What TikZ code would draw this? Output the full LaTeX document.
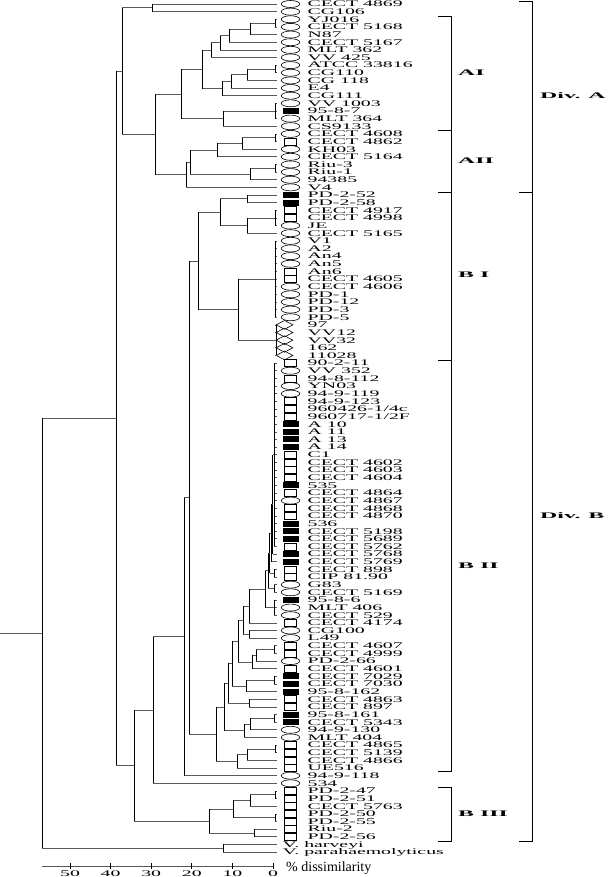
\documentclass[tikz,border=0pt]{standalone}
\usepackage{fontspec}
\setmainfont{Liberation Serif}
\newfontfamily\leaffont[FakeStretch=2.3]{Liberation Serif}
\newfontfamily\grpfont[FakeStretch=2.8]{Liberation Serif}
\usetikzlibrary{calc,shapes.geometric}
% 分岐: 名前, x, 上の子, 下の子
\newcommand\clade[4]{%
  \coordinate (#1m) at ($(#3)!0.5!(#4)$);
  \coordinate (#1) at (#2,0 |- #1m);
  \draw[hline] (#3) -- (#1 |- #3) (#1 |- #4) -- (#4);
  \draw[vline] (#1 |- #3) -- (#1 |- #4);
}
\begin{document}
\begin{tikzpicture}[x=1pt, y=-1pt,
    hline/.style={line width=0.65pt, black!65},
    vline/.style={line width=0.95pt, black},
    brk/.style={line width=0.8pt},
    leaf/.style={font=\leaffont\fontsize{8.6}{9}\selectfont, anchor=west, inner sep=0pt, text height=5.7pt, text depth=0pt},
    grp/.style={font=\grpfont\bfseries\fontsize{8.5}{9}\selectfont, anchor=west, inner sep=0pt},
    opn/.style={draw, ellipse, inner sep=0pt, minimum width=18.5pt, minimum height=7pt, line width=0.6pt},
    box/.style={draw, rectangle, inner sep=0pt, minimum width=12pt, minimum height=7pt, line width=0.6pt},
    blk/.style={fill=black, rectangle, inner sep=0pt, minimum width=16pt, minimum height=6pt},
    dia/.style={draw, diamond, inner sep=0pt, minimum width=17pt, minimum height=9pt, line width=0.6pt, xshift=-6pt}]
  \useasboundingbox (0,0) rectangle (608,877);
  % 葉
  \foreach \lab/\sym [count=\i] in {
      {CECT 4869}/opn, CG106/opn, YJ016/opn, {CECT 5168}/opn, N87/opn,
      {CECT 5167}/opn, {MLT 362}/opn, {VV 425}/opn, {ATCC 33816}/opn, CG110/opn,
      {CG 118}/opn, E4/opn, CG111/opn, {VV 1003}/opn, 95-8-7/blk,
      {MLT 364}/opn, CS9133/opn, {CECT 4608}/opn, {CECT 4862}/box, KH03/opn,
      {CECT 5164}/opn, Riu-3/opn, Riu-1/opn, 94385/opn, V4/opn,
      PD-2-52/blk, PD-2-58/blk, {CECT 4917}/box, {CECT 4998}/box, JE/opn,
      {CECT 5165}/opn, V1/opn, A2/opn, An4/opn, An5/opn,
      An6/box, {CECT 4605}/box, {CECT 4606}/opn, PD-1/opn, PD-12/opn,
      PD-3/opn, PD-5/opn, 97/dia, VV12/dia, VV32/dia,
      162/dia, 11028/dia, 90-2-11/box, {VV 352}/opn, 94-8-112/box,
      YN03/opn, 94-9-119/opn, 94-9-123/box, {960426-1/4c}/box, {960717-1/2F}/box,
      {A 10}/blk, {A 11}/blk, {A 13}/blk, {A 14}/blk, C1/box,
      {CECT 4602}/box, {CECT 4603}/box, {CECT 4604}/box, 535/blk, {CECT 4864}/box,
      {CECT 4867}/opn, {CECT 4868}/box, {CECT 4870}/box, 536/blk, {CECT 5198}/blk,
      {CECT 5689}/blk, {CECT 5762}/box, {CECT 5768}/blk, {CECT 5769}/blk, {CECT 898}/box,
      {CIP 81.90}/box, G83/opn, {CECT 5169}/opn, 95-8-6/blk, {MLT 406}/opn,
      {CECT 529}/opn, {CECT 4174}/box, CG100/opn, L49/opn, {CECT 4607}/box,
      {CECT 4999}/box, PD-2-66/opn, {CECT 4601}/box, {CECT 7029}/blk, {CECT 7030}/blk,
      95-8-162/blk, {CECT 4863}/box, {CECT 897}/box, 95-8-161/blk, {CECT 5343}/blk,
      94-9-130/opn, {MLT 404}/opn, {CECT 4865}/box, {CECT 5139}/box, {CECT 4866}/box,
      UE516/box, 94-9-118/opn, 534/opn, PD-2-47/box, PD-2-51/box,
      {CECT 5763}/box, PD-2-50/box, PD-2-55/box, Riu-2/box, PD-2-56/box} {
    \pgfmathsetmacro\yy{4+(\i-1)*7.64}
    \coordinate (L\i) at (277,\yy);
    \coordinate (S\i) at (274.5,\yy);
    \draw[hline] (S\i) -- (L\i);
    \node[\sym] (m\i) at (290.5,\yy) {};
    \node[leaf] (t\i) at (307.5,\yy) {\lab};
  }
  \coordinate (L111) at (277,844.4);
  \coordinate (L112) at (277,852.0);
  \node[leaf] (t111) at (282.5,844.4) {V. harveyi};
  \node[leaf] (t112) at (282.5,852.0) {V. parahaemolyticus};
  % Div. A
  \clade{a1}{152}{L1}{L2}
  \clade{a2}{275}{L3}{L4}
  \clade{a3}{250}{a2}{L5}
  \clade{a4}{229}{a3}{L6}
  \clade{a5}{220}{a4}{L7}
  \clade{a6}{211}{a5}{L8}
  \clade{b1}{275}{L9}{L10}
  \clade{b2}{247}{b1}{L11}
  \clade{b3}{231}{b2}{L12}
  \clade{b4}{222}{b3}{L13}
  \clade{b5}{202}{a6}{b4}
  \clade{c1}{275}{L14}{L16}
  \clade{c2}{223}{c1}{L17}
  \clade{aI}{181}{b5}{c2}
  \clade{d1}{275}{L18}{L19}
  \clade{d2}{242}{d1}{L20}
  \clade{d3}{217}{d2}{L21}
  \clade{d4}{275}{L22}{L23}
  \clade{d5}{250}{d4}{L24}
  \clade{d6}{190}{d3}{d5}
  \clade{aII}{186}{d6}{L25}
  \clade{e1}{155}{aI}{aII}
  \clade{divA}{122}{a1}{e1}
  % Div. B
  \clade{f1}{247}{L26}{L27}
  \clade{f2}{275}{L28}{L30}
  \clade{f3}{247}{f2}{L31}
  \clade{f4}{220}{f1}{f3}
  \clade{g1}{275}{L32}{L42}
  \clade{g2}{276}{L43}{L47}
  \clade{g3}{238}{g1}{g2}
  \clade{bI}{198}{f4}{g3}
  \clade{p1}{274}{L48}{L72}
  \clade{p2}{272.5}{p1}{L73}
  \clade{p3}{271}{p2}{L74}
  \clade{p4}{274}{L75}{L76}
  \clade{p5}{269.5}{p3}{p4}
  \clade{p6}{274}{L77}{L78}
  \clade{p7}{268}{p5}{p6}
  \clade{p8}{274}{L79}{L81}
  \clade{p9}{265}{p7}{p8}
  \clade{q1}{249}{p9}{L82}
  \clade{q2}{249}{L83}{L84}
  \clade{q3}{243}{q1}{q2}
  \clade{r1}{274}{L85}{L86}
  \clade{r2}{256}{r1}{L87}
  \clade{r3}{252}{r2}{L88}
  \clade{v1}{238}{q3}{r3}
  \clade{s1}{274}{L89}{L90}
  \clade{s2}{246}{s1}{L91}
  \clade{v2}{232}{v1}{s2}
  \clade{t1}{249}{L92}{L93}
  \clade{v3}{228}{v2}{t1}
  \clade{u1}{274}{L94}{L95}
  \clade{u2}{250}{u1}{L96}
  \clade{u3}{244}{u2}{L97}
  \clade{v4}{224}{v3}{u3}
  \clade{w1}{275}{L98}{L99}
  \clade{w2}{247}{w1}{L100}
  \clade{w3}{237}{w2}{L101}
  \clade{bII}{216}{v4}{w3}
  \clade{h1}{189}{bI}{bII}
  \clade{h2}{184}{h1}{L102}
  \clade{h3}{153}{h2}{L103}
  \clade{i1}{275}{L104}{L105}
  \clade{i2}{250}{i1}{L106}
  \clade{i3}{275}{L107}{L108}
  \clade{i4}{233}{i2}{i3}
  \clade{i5}{254}{L109}{L110}
  \clade{bIII}{209}{i4}{i5}
  \clade{divB}{134}{h3}{bIII}
  % 根
  \clade{ab}{116}{divA}{divB}
  \clade{vv}{223}{L111}{L112}
  \clade{root}{42}{ab}{vv}
  \coordinate (stem) at (0,0 |- root);
  \draw[hline] (stem) -- (root);
  % 群の括弧
  \draw[brk] (438,16) -| (451,130.5) -- (438,130.5);
  \draw[brk] (438,130.5) -| (451,192.3) -- (438,192.3);
  \draw[brk] (438,192.3) -| (451,360) -- (438,360);
  \draw[brk] (438,360) -| (451,771.7) -- (438,771.7);
  \draw[brk] (438,787.7) -| (451,841.7) -- (438,841.7);
  \draw[brk] (519,1) -| (532,192.3) -- (519,192.3);
  \draw[brk] (519,192.3) -| (532,841.7) -- (519,841.7);
  \node[grp] (gAI) at (458,73) {AI};
  \node[grp] (gAII) at (458,161) {AII};
  \node[grp] (gBI) at (458,275) {B I};
  \node[grp] (gBII) at (458,566) {B II};
  \node[grp] (gBIII) at (458,814) {B III};
  \node[grp] (gDA) at (540,96) {Div. A};
  \node[grp] (gDB) at (540,516) {Div. B};
  % 目盛り
  \draw[hline] (42,866) -- (274,866);
  \foreach \v in {0,10,...,50} {
    \draw[vline] ({273-4.06*\v},863) -- ++(0,6);
    \node[leaf, anchor=center] (x\v) at ({273-4.06*\v},873.5) {\v};
  }
  \node[anchor=west, inner sep=0pt, font=\fontsize{14}{15}\selectfont] (unit) at (286,868) {\% dissimilarity};
\end{tikzpicture}
\end{document}
